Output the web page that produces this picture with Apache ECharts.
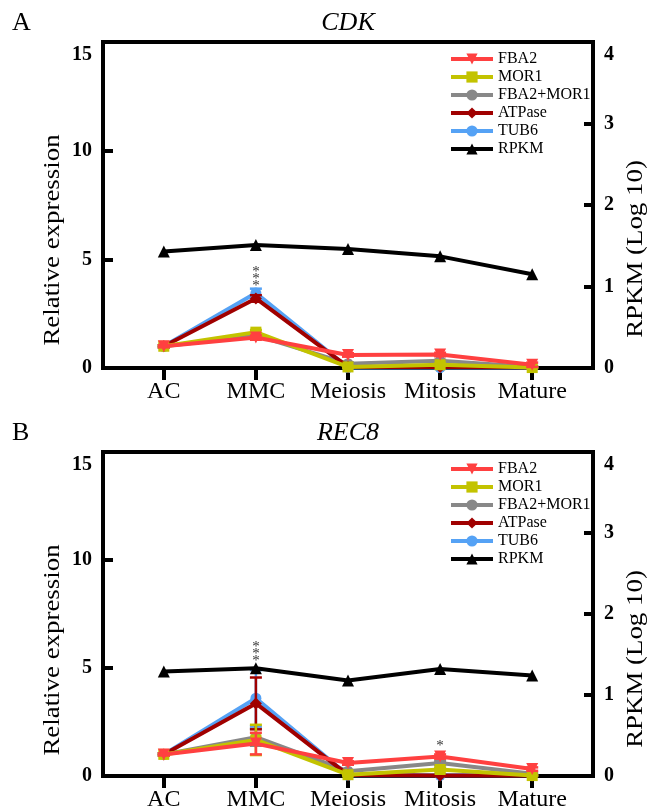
<!DOCTYPE html>
<html>
<head>
<meta charset="utf-8">
<script src="https://cdn.jsdelivr.net/npm/echarts@6/dist/echarts.min.js"></script>
<style>html,body{margin:0;padding:0;background:#fff;}#c{width:650px;height:812px;}</style>
</head>
<body>
<div id="c"></div>
<script>
// ---- data ----
const categories = ['AC', 'MMC', 'Meiosis', 'Mitosis', 'Mature'];
const seriesNames = ['FBA2', 'MOR1', 'FBA2+MOR1', 'ATPase', 'TUB6', 'RPKM'];
const leftTicks = [0, 5, 10, 15];
const rightTicks = [0, 1, 2, 3, 4];
const panelTitles = ['CDK', 'REC8'];
const panelLetters = ['A', 'B'];

// Panel A: CDK
const cdkFBA2 = [1.0, 1.4, 0.6, 0.62, 0.15];
const cdkFBA2Err = [0.05, 0.1, 0.08, 0.08, 0.1];
const cdkMOR1 = [1.0, 1.65, 0.05, 0.15, 0.02];
const cdkMOR1Err = [0.05, 0.1, 0.03, 0.05, 0.02];
const cdkFBA2MOR1 = [1.0, 1.5, 0.2, 0.33, 0.05];
const cdkFBA2MOR1Err = [0.05, 0.1, 0.05, 0.05, 0.03];
const cdkATPase = [1.0, 3.2, 0.05, 0.05, 0.03];
const cdkATPaseErr = [0.05, 0.15, 0.02, 0.02, 0.02];
const cdkTUB6 = [1.0, 3.45, 0.02, 0.02, 0.02];
const cdkTUB6Err = [0.05, 0.2, 0.02, 0.02, 0.02];
const cdkRPKM = [1.43, 1.51, 1.46, 1.37, 1.15];
const cdkStars = [[1, 4.23, '***']];

// Panel B: REC8
const recFBA2 = [1.0, 1.5, 0.6, 0.9, 0.32];
const recFBA2Err = [0.05, 0.5, 0.08, 0.1, 0.08];
const recMOR1 = [1.0, 1.67, 0.06, 0.3, 0.02];
const recMOR1Err = [0.05, 0.7, 0.03, 0.08, 0.02];
const recFBA2MOR1 = [1.0, 1.8, 0.22, 0.6, 0.1];
const recFBA2MOR1Err = [0.05, 0.4, 0.05, 0.1, 0.05];
const recATPase = [1.0, 3.36, 0.05, 0.02, 0.02];
const recATPaseErr = [0.05, 1.2, 0.02, 0.02, 0.02];
const recTUB6 = [1.0, 3.6, 0.03, 0.03, 0.03];
const recTUB6Err = [0.05, 1.3, 0.02, 0.02, 0.02];
const recRPKM = [1.29, 1.33, 1.18, 1.32, 1.24];
const recStars = [[1, 5.8, '***'], [3, 1.52, '*']];

// ---- styling ----
const SERIF = '"Liberation Serif", "DejaVu Serif", serif';
const styles = {
  'FBA2':      {color: '#ff4040', symbol: 'triangle', rotate: 180, size: 12, z: 7},
  'MOR1':      {color: '#c3c300', symbol: 'rect', rotate: 0, size: 11, z: 6},
  'FBA2+MOR1': {color: '#888888', symbol: 'circle', rotate: 0, size: 11, z: 3},
  'ATPase':    {color: '#a00000', symbol: 'diamond', rotate: 0, size: 12, z: 5},
  'TUB6':      {color: '#55a2f5', symbol: 'circle', rotate: 0, size: 11, z: 4},
  'RPKM':      {color: '#000000', symbol: 'triangle', rotate: 0, size: 12, z: 8}
};
const panels = [
  {vals: [cdkFBA2, cdkMOR1, cdkFBA2MOR1, cdkATPase, cdkTUB6, cdkRPKM],
   errs: [cdkFBA2Err, cdkMOR1Err, cdkFBA2MOR1Err, cdkATPaseErr, cdkTUB6Err, null],
   stars: cdkStars},
  {vals: [recFBA2, recMOR1, recFBA2MOR1, recATPase, recTUB6, recRPKM],
   errs: [recFBA2Err, recMOR1Err, recFBA2MOR1Err, recATPaseErr, recTUB6Err, null],
   stars: recStars}
];
const GRID_LEFT = 103, GRID_W = 490, GRID_H = 326;
const GRID_TOPS = [42, 452];
const AXW = 4;
const tickFont = {color: '#000', fontFamily: SERIF, fontSize: 20, fontWeight: 'bold'};

const grids = [], xAxes = [], yAxes = [], series = [], legends = [], graphics = [];

function yLabel(maxV) {
  return {
    ...tickFont, margin: 11,
    formatter: v => (v === maxV ? '{t|' + v + '}' : String(v)),
    rich: {t: {...tickFont, padding: [26, 0, 0, 0]}}
  };
}

panels.forEach((p, pi) => {
  const top = GRID_TOPS[pi];
  grids.push({left: GRID_LEFT, top: top, width: GRID_W, height: GRID_H,
    show: true, borderColor: '#000', borderWidth: AXW, backgroundColor: 'transparent'});
  xAxes.push({
    gridIndex: pi, type: 'value', min: -0.66, max: 4.66,
    axisLine: {show: true, onZero: false, lineStyle: {color: '#000', width: AXW}},
    axisTick: {show: true, inside: false, length: 12, lineStyle: {color: '#000', width: AXW},
      customValues: categories.map((c, i) => i)},
    axisLabel: {show: true, customValues: categories.map((c, i) => i),
      formatter: v => categories[Math.round(v)] || '',
      color: '#000', fontFamily: SERIF, fontSize: 24, margin: 12},
    splitLine: {show: false}
  });
  yAxes.push({
    gridIndex: pi, type: 'value', min: 0, max: 15, interval: 5, position: 'left',
    axisLine: {show: true, onZero: false, lineStyle: {color: '#000', width: AXW}},
    axisTick: {show: true, inside: true, length: 10, lineStyle: {color: '#000', width: AXW}},
    axisLabel: yLabel(15),
    splitLine: {show: false}
  });
  yAxes.push({
    gridIndex: pi, type: 'value', min: 0, max: 4, interval: 1, position: 'right',
    axisLine: {show: true, onZero: false, lineStyle: {color: '#000', width: AXW}},
    axisTick: {show: true, inside: true, length: 9, lineStyle: {color: '#000', width: AXW}},
    axisLabel: yLabel(4),
    splitLine: {show: false}
  });
  const yLeft = pi * 2, yRight = pi * 2 + 1;
  seriesNames.forEach((name, si) => {
    const st = styles[name];
    const isR = name === 'RPKM';
    series.push({
      name: name, type: 'line', xAxisIndex: pi, yAxisIndex: isR ? yRight : yLeft,
      data: p.vals[si].map((v, i) => [i, v]),
      symbol: st.symbol, symbolRotate: st.rotate, symbolSize: st.size, showSymbol: true,
      lineStyle: {color: st.color, width: 4}, itemStyle: {color: st.color},
      z: st.z, animation: false, emphasis: {disabled: true}
    });
  });
  seriesNames.forEach((name, si) => {
    const errs = p.errs[si];
    if (!errs) return;
    const st = styles[name];
    series.push({
      type: 'custom', xAxisIndex: pi, yAxisIndex: yLeft, z: st.z, animation: false,
      data: p.vals[si].map((v, i) => [i, v - errs[i], v + errs[i]]),
      encode: {x: 0, y: [1, 2]},
      renderItem: (params, api) => {
        const x = api.value(0);
        const a = api.coord([x, api.value(1)]);
        const b = api.coord([x, api.value(2)]);
        const w = 6;
        const s = {stroke: st.color, lineWidth: 2.5};
        return {type: 'group', children: [
          {type: 'line', shape: {x1: a[0], y1: a[1], x2: b[0], y2: b[1]}, style: s},
          {type: 'line', shape: {x1: a[0] - w, y1: a[1], x2: a[0] + w, y2: a[1]}, style: s},
          {type: 'line', shape: {x1: b[0] - w, y1: b[1], x2: b[0] + w, y2: b[1]}, style: s}
        ]};
      }
    });
  });
  series.push({
    type: 'custom', xAxisIndex: pi, yAxisIndex: yLeft, z: 9, animation: false,
    data: p.stars, encode: {x: 0, y: 1},
    renderItem: (params, api) => {
      const c = api.coord([api.value(0), api.value(1)]);
      const txt = p.stars[params.dataIndex][2];
      const n = txt.length;
      const children = [];
      for (let k = 0; k < n; k++) {
        children.push({type: 'text', x: c[0], y: c[1] + (k - (n - 1) / 2) * 7 + 3,
          style: {text: '*', fill: '#333', font: '15px ' + SERIF, align: 'center', verticalAlign: 'middle'}});
      }
      return {type: 'group', children: children};
    }
  });
  legends.push({
    data: seriesNames, orient: 'vertical', left: 449, top: top + 9, padding: 0,
    itemWidth: 42, itemHeight: 14, itemGap: 2,
    lineStyle: {width: 4},
    textStyle: {color: '#000', fontFamily: SERIF, fontSize: 16, lineHeight: 14, padding: [0, 0, 0, 0]},
    selectedMode: false
  });
  graphics.push({type: 'text', left: 12, top: top - 32,
    style: {text: panelLetters[pi], fill: '#000', font: '26px ' + SERIF}});
  graphics.push({type: 'text', x: GRID_LEFT + GRID_W / 2, y: top - 19,
    style: {text: panelTitles[pi], fill: '#000', font: 'italic 26px ' + SERIF, align: 'center', verticalAlign: 'middle'}});
  graphics.push({type: 'text', x: 53, y: top + 198, rotation: Math.PI / 2, scaleX: 1.12,
    style: {text: 'Relative expression', fill: '#000', font: '24px ' + SERIF, align: 'center', verticalAlign: 'middle'}});
  graphics.push({type: 'text', x: 636, y: top + 207, rotation: Math.PI / 2, scaleX: 1.12,
    style: {text: 'RPKM (Log 10)', fill: '#000', font: '24px ' + SERIF, align: 'center', verticalAlign: 'middle'}});
});

const chart = echarts.init(document.getElementById('c'), null, {renderer: 'canvas'});
chart.setOption({
  backgroundColor: '#fff',
  animation: false,
  grid: grids, xAxis: xAxes, yAxis: yAxes, series: series, legend: legends,
  graphic: graphics
});
</script>
</body>
</html>
